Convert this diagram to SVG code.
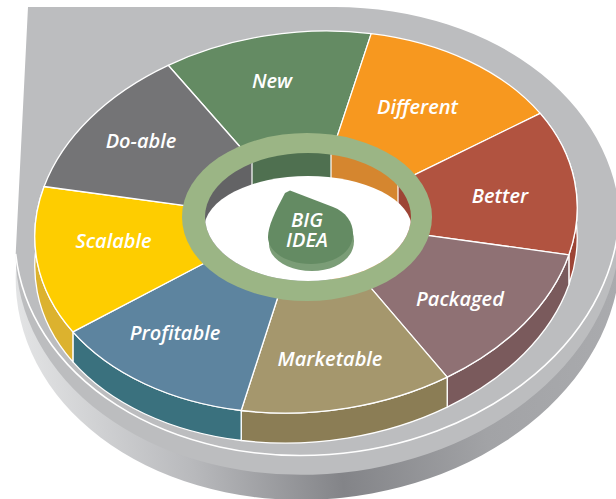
<svg xmlns="http://www.w3.org/2000/svg" width="616" height="499" viewBox="0 0 616 499">
  <style>
    .edge { stroke: #ffffff; stroke-width: 1.3; stroke-linejoin: round; }
    .lbl { font-family: "Open Sans", "Liberation Sans", sans-serif; font-style: italic; font-weight: 600; font-size: 20px; fill: #ffffff; text-anchor: middle; }
    .wall-line { stroke: #ffffff; stroke-width: 1.2; }
  </style>
  <defs>
    <linearGradient id="baseSide" gradientUnits="userSpaceOnUse" x1="0" y1="0" x2="616" y2="0">
      <stop offset="0" stop-color="#e6e7e8"/>
      <stop offset="0.28" stop-color="#b8b9bc"/>
      <stop offset="0.52" stop-color="#838488"/>
      <stop offset="0.76" stop-color="#a2a3a6"/>
      <stop offset="1" stop-color="#aaabae"/>
    </linearGradient>
    <clipPath id="hole">
      <ellipse cx="308" cy="217" rx="103" ry="64"/>
    </clipPath>
    <path id="dropShape" d="M285,193 L290,190.5 L333,207 C346,212 353,222 353,234 C353,252 334,264 311,264 C287,264 268,252 268,237 C268,226 275,212 285,193 Z"/>
  </defs>

  <!-- platform: side band, top face and rim highlight -->
  <g id="platform">
    <ellipse cx="318" cy="266" rx="303" ry="233" transform="rotate(-6 318 266)" fill="url(#baseSide)"/>
    <path d="M28,7 L334.7,7.1 A303,233 -6 1 1 15.7,253.9 Z" fill="#bcbdbf"/>
    <path d="M619.3,209.3 A303,233 -6 0 1 15.7,253.9" fill="none" stroke="#ffffff" stroke-width="1.6"/>
  </g>

  <!-- wheel thickness: visible side walls of the front segments -->
  <g id="wheel-sides" class="edge">
    <path d="M540.2,113.4 A272,190 -6 0 1 568.9,254.8 L568.9,284.8 A272,190 -6 0 0 540.2,143.4 Z" fill="#9d4536"/>
    <path d="M568.9,254.8 A272,190 -6 0 1 447.2,377.1 L447.2,407.1 A272,190 -6 0 0 568.9,284.8 Z" fill="#7a5a5c"/>
    <path d="M447.2,377.1 A272,190 -6 0 1 241.2,410.5 L241.2,440.5 A272,190 -6 0 0 447.2,407.1 Z" fill="#8b7d55"/>
    <path d="M241.2,410.5 A272,190 -6 0 1 72.9,331.9 L72.9,361.9 A272,190 -6 0 0 241.2,440.5 Z" fill="#3a717e"/>
    <path d="M72.9,331.9 A272,190 -6 0 1 44.1,186.5 L44.1,216.5 A272,190 -6 0 0 72.9,361.9 Z" fill="#dcb22e"/>
  </g>

  <!-- wheel segments -->
  <g id="seg-new">
    <path class="edge" d="M168.2,65.3 A272,190 -6 0 1 371.2,33.6 L333.2,148.4 L307,217 L249,157 Z" fill="#648b63"/>
    <text class="lbl" x="272" y="88">New</text>
  </g>
  <g id="seg-different">
    <path class="edge" d="M371.2,33.6 A272,190 -6 0 1 540.2,113.4 L405.2,179.3 L307,217 L333.2,148.4 Z" fill="#f7981f"/>
    <text class="lbl" x="417.5" y="114">Different</text>
  </g>
  <g id="seg-better">
    <path class="edge" d="M540.2,113.4 A272,190 -6 0 1 568.9,254.8 L420.1,234.4 L307,217 L405.2,179.3 Z" fill="#b15340"/>
    <text class="lbl" x="500" y="203">Better</text>
  </g>
  <g id="seg-packaged">
    <path class="edge" d="M568.9,254.8 A272,190 -6 0 1 447.2,377.1 L364,279.8 L307,217 L420.1,234.4 Z" fill="#8f7174"/>
    <text class="lbl" x="460" y="306">Packaged</text>
  </g>
  <g id="seg-marketable">
    <path class="edge" d="M447.2,377.1 A272,190 -6 0 1 241.2,410.5 L279.6,291.7 L307,217 L364,279.8 Z" fill="#a5976d"/>
    <text class="lbl" x="330" y="366">Marketable</text>
  </g>
  <g id="seg-profitable">
    <path class="edge" d="M241.2,410.5 A272,190 -6 0 1 72.9,331.9 L210.3,260 L307,217 L279.6,291.7 Z" fill="#5d849f"/>
    <text class="lbl" x="175" y="340">Profitable</text>
  </g>
  <g id="seg-scalable">
    <path class="edge" d="M72.9,331.9 A272,190 -6 0 1 44.1,186.5 L200,207.6 L307,217 L210.3,260 Z" fill="#fecd00"/>
    <text class="lbl" x="113.5" y="248">Scalable</text>
  </g>
  <g id="seg-doable">
    <path class="edge" d="M44.1,186.5 A272,190 -6 0 1 168.2,65.3 L249,157 L307,217 L200,207.6 Z" fill="#747476"/>
    <text class="lbl" x="141" y="148">Do-able</text>
  </g>

  <!-- central ring and the well inside it -->
  <g id="ring">
    <ellipse cx="307" cy="217" rx="125" ry="84" fill="#9bb585"/>
    <g clip-path="url(#hole)">
      <rect x="190" y="140" width="62" height="150" fill="#636365"/>
      <rect x="252" y="140" width="79" height="150" fill="#4f7050"/>
      <rect x="331" y="140" width="67" height="150" fill="#d5862f"/>
      <rect x="398" y="140" width="32" height="150" fill="#9d4435"/>
      <line class="wall-line" x1="252" y1="140" x2="252" y2="215"/>
      <line class="wall-line" x1="331" y1="140" x2="331" y2="215"/>
      <line class="wall-line" x1="398" y1="140" x2="398" y2="215"/>
      <ellipse cx="308" cy="229" rx="104" ry="53" fill="#ffffff"/>
    </g>
  </g>

  <!-- centre drop -->
  <g id="big-idea">
    <use href="#dropShape" transform="translate(1 7)" fill="#7b9d77"/>
    <use href="#dropShape" fill="#648b63"/>
    <text class="lbl" font-size="18"><tspan x="307" y="226.5">BIG</tspan><tspan x="307" y="247">IDEA</tspan></text>
  </g>
</svg>
